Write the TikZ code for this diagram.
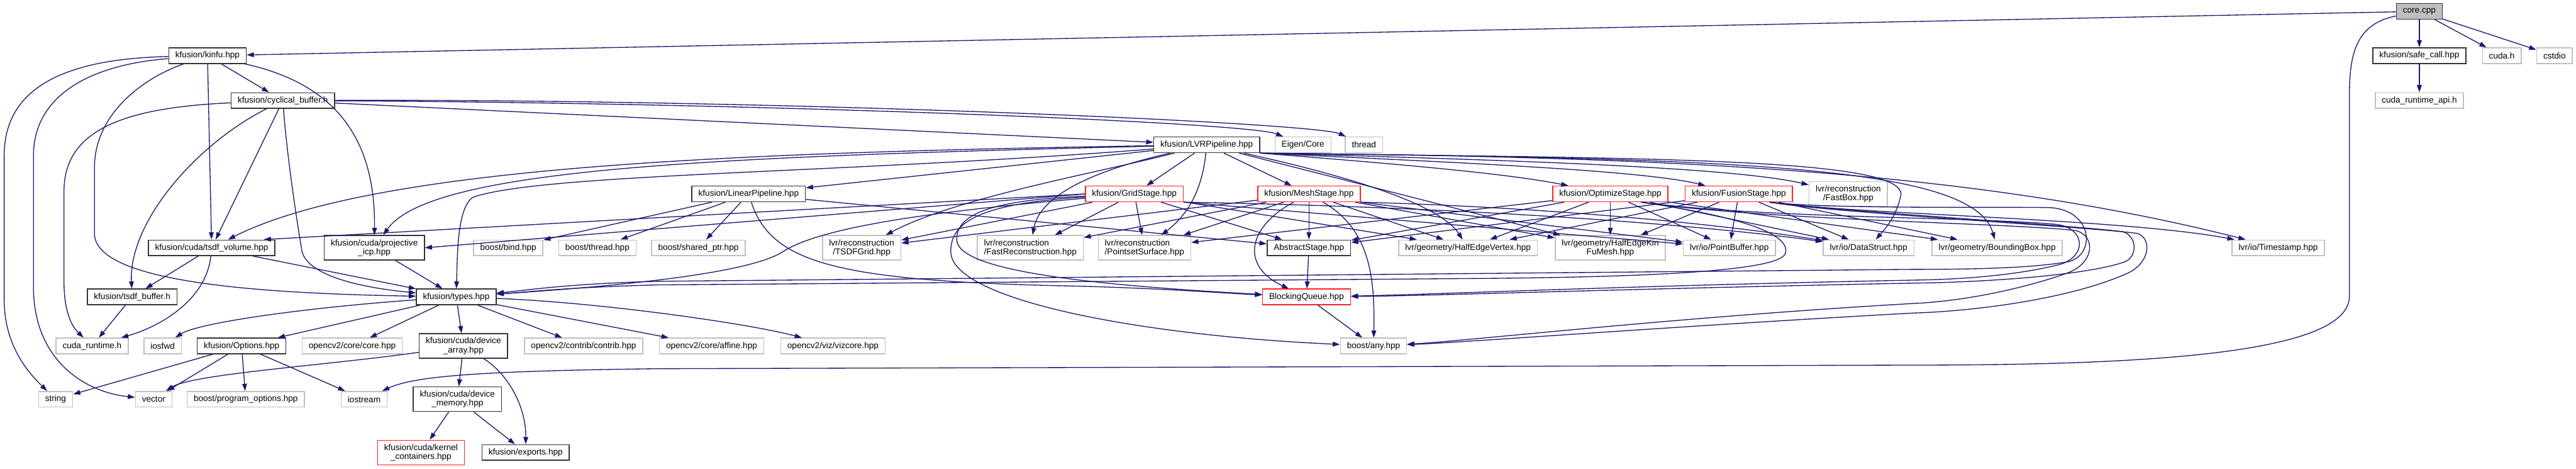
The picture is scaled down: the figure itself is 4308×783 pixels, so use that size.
\documentclass[tikz,border=0pt]{standalone}
\usepackage{fontspec}
\newfontfamily\graphfont{Liberation Sans}
\usepackage{tikz}
\usetikzlibrary{arrows.meta}
\definecolor{edgeblue}{HTML}{191970}
\definecolor{extgray}{HTML}{BFBFBF}
\definecolor{docline}{HTML}{333333}
\definecolor{cutred}{HTML}{FF2020}
\tikzset{
  inc/.style={-{Triangle[length=12pt,width=8pt]}, draw=edgeblue, line width=1.4pt},
  file/.style={rectangle, draw, fill=white, line width=1.6pt, align=center, inner xsep=11pt, inner ysep=2pt, minimum height=26pt, font=\graphfont\fontsize{14.3}{15}\selectfont},
  docfile/.style={file, draw=docline},
  extfile/.style={file, draw=extgray},
  cutfile/.style={file, draw=cutred},
  srcfile/.style={file, draw=docline, fill=extgray},
  twolines/.style={minimum height=41pt}
}

\begin{document}
\begin{tikzpicture}[x=1pt,y=1pt]
  \useasboundingbox (0,0) rectangle (4308,-783);

  \node[srcfile] (core) at (4046,-19) {core.cpp};
  \node[docfile] (kinfu) at (347,-93) {kfusion/kinfu.hpp};
  \node[docfile] (safecall) at (4046,-93) {kfusion/safe\_call.hpp};
  \node[extfile] (cudah) at (4184,-93) {cuda.h};
  \node[extfile] (cstdio) at (4272,-93) {cstdio};
  \node[docfile] (cyclical) at (473,-168) {kfusion/cyclical\_buffer.h};
  \node[extfile] (cudaapi) at (4046,-168) {cuda\_runtime\_api.h};
  \node[docfile] (lvr) at (2018,-242) {kfusion/LVRPipeline.hpp};
  \node[extfile] (eigen) at (2179,-242) {Eigen/Core};
  \node[extfile] (thrd) at (2281,-242) {thread};

  \node[docfile] (linear) at (1252,-324) {kfusion/LinearPipeline.hpp};
  \node[cutfile] (grid) at (1897,-324) {kfusion/GridStage.hpp};
  \node[cutfile] (mesh) at (2189,-324) {kfusion/MeshStage.hpp};
  \node[cutfile] (optimize) at (2693,-324) {kfusion/OptimizeStage.hpp};
  \node[cutfile] (fusion) at (2908,-324) {kfusion/FusionStage.hpp};
  \node[extfile, twolines] (fastbox) at (3091,-324) {lvr/reconstruction\\/FastBox.hpp};

  \node[docfile] (tsdfvol) at (354,-414) {kfusion/cuda/tsdf\_volume.hpp};
  \node[docfile, twolines] (projicp) at (626,-414) {kfusion/cuda/projective\\\_icp.hpp};
  \node[extfile] (bind) at (850,-414) {boost/bind.hpp};
  \node[extfile] (bthread) at (999,-414) {boost/thread.hpp};
  \node[extfile] (sharedptr) at (1168,-414) {boost/shared\_ptr.hpp};
  \node[extfile, twolines] (tsdfgrid) at (1441,-414) {lvr/reconstruction\\/TSDFGrid.hpp};
  \node[extfile, twolines, align=left] (fastrec) at (1723,-414) {lvr/reconstruction\\/FastReconstruction.hpp};
  \node[extfile, twolines, align=left] (pointset) at (1914,-414) {lvr/reconstruction\\/PointsetSurface.hpp};
  \node[docfile] (abstract) at (2189,-414) {AbstractStage.hpp};
  \node[extfile] (hevertex) at (2455,-414) {lvr/geometry/HalfEdgeVertex.hpp};
  \node[extfile, twolines] (hekinfu) at (2693,-414) {lvr/geometry/HalfEdgeKin\\FuMesh.hpp};
  \node[extfile] (pointbuf) at (2892,-414) {lvr/io/PointBuffer.hpp};
  \node[extfile] (datastruct) at (3125,-414) {lvr/io/DataStruct.hpp};
  \node[extfile] (bbox) at (3340,-414) {lvr/geometry/BoundingBox.hpp};
  \node[extfile] (timestamp) at (3810,-414) {lvr/io/Timestamp.hpp};

  \node[docfile] (tsdfbuf) at (221,-496) {kfusion/tsdf\_buffer.h};
  \node[docfile] (types) at (763,-496) {kfusion/types.hpp};
  \node[cutfile] (blocking) at (2185,-496) {BlockingQueue.hpp};

  \node[extfile] (cudart) at (154,-578) {cuda\_runtime.h};
  \node[extfile] (iosfwd) at (272,-578) {iosfwd};
  \node[docfile] (options) at (404,-578) {kfusion/Options.hpp};
  \node[extfile] (corehpp) at (589,-578) {opencv2/core/core.hpp};
  \node[docfile, twolines] (devarray) at (775,-578) {kfusion/cuda/device\\\_array.hpp};
  \node[extfile] (contrib) at (976,-578) {opencv2/contrib/contrib.hpp};
  \node[extfile] (affine) at (1190,-578) {opencv2/core/affine.hpp};
  \node[extfile] (vizcore) at (1393,-578) {opencv2/viz/vizcore.hpp};
  \node[extfile] (anyb) at (2297,-578) {boost/any.hpp};

  \node[extfile] (string) at (93,-667) {string};
  \node[extfile] (vector) at (257,-667) {vector};
  \node[extfile] (progopts) at (411,-667) {boost/program\_options.hpp};
  \node[extfile] (iostream) at (609,-667) {iostream};
  \node[docfile, twolines] (devmem) at (765,-667) {kfusion/cuda/device\\\_memory.hpp};
  \node[cutfile, twolines] (kernelcont) at (704,-756) {kfusion/cuda/kernel\\\_containers.hpp};
  \node[docfile] (exports) at (879,-756) {kfusion/exports.hpp};

  \foreach \t in {kinfu,safecall,cudah,cstdio} \draw[inc] (core) -- (\t);
  \draw[inc] (core) .. controls (3940,-40) and (3929,-90) .. (3929,-160) -- (3929,-495) .. controls (3929,-590) and (3600,-610) .. (3200,-610) -- (1100,-616) .. controls (780,-620) and (690,-630) .. (iostream);
  \draw[inc] (safecall) -- (cudaapi);

  \foreach \t in {cyclical,tsdfvol} \draw[inc] (kinfu) -- (\t);
  \draw[inc] (kinfu) .. controls (560,-140) and (628,-230) .. (projicp);
  \draw[inc] (kinfu) .. controls (120,-98) and (7,-140) .. (7,-260) -- (7,-500) .. controls (7,-580) and (50,-625) .. (string);
  \draw[inc] (kinfu) .. controls (150,-108) and (56,-160) .. (56,-260) -- (56,-480) .. controls (56,-600) and (140,-655) .. (vector);
  \draw[inc] (kinfu) .. controls (240,-130) and (158,-190) .. (158,-280) -- (158,-390) .. controls (158,-470) and (420,-490) .. (types);

  \draw[inc] (cyclical) -- (lvr);
  \draw[inc] (cyclical) -- (tsdfvol);
  \draw[inc] (cyclical) .. controls (1300,-172) and (2090,-205) .. (eigen);
  \draw[inc] (cyclical) .. controls (1300,-165) and (2200,-205) .. (thrd);
  \draw[inc] (cyclical) .. controls (200,-180) and (107,-220) .. (107,-320) -- (107,-470) .. controls (107,-530) and (125,-550) .. (cudart);
  \draw[inc] (cyclical) .. controls (330,-240) and (215,-370) .. (tsdfbuf);
  \draw[inc] (cyclical) .. controls (480,-260) and (495,-360) .. (505,-420) .. controls (515,-460) and (600,-480) .. (types);

  \foreach \t in {linear,grid,mesh,hekinfu} \draw[inc] (lvr) -- (\t);
  \draw[inc] (lvr) .. controls (1200,-255) and (620,-280) .. (tsdfvol);
  \draw[inc] (lvr) .. controls (1200,-262) and (720,-280) .. (projicp);
  \draw[inc] (lvr) .. controls (1400,-290) and (900,-290) .. (790,-330) .. controls (765,-350) and (765,-420) .. (types);
  \draw[inc] (lvr) .. controls (1830,-290) and (1600,-330) .. (tsdfgrid);
  \draw[inc] (lvr) .. controls (1850,-280) and (1740,-320) .. (fastrec);
  \draw[inc] (lvr) .. controls (2010,-320) and (1985,-360) .. (pointset);
  \draw[inc] (lvr) .. controls (2280,-300) and (2410,-345) .. (hevertex);
  \draw[inc] (lvr.south east) .. controls (2350,-275) and (2520,-290) .. (optimize);
  \draw[inc] (lvr.south east) .. controls (2450,-272) and (2750,-285) .. (fusion);
  \draw[inc] (lvr.south east) .. controls (2550,-268) and (2900,-280) .. (fastbox);
  \draw[inc] (lvr.south east) .. controls (2750,-265) and (3205,-262) .. (3178,-330) .. controls (3170,-365) and (3150,-385) .. (datastruct);
  \draw[inc] (lvr.south east) .. controls (2900,-265) and (3300,-275) .. (bbox);
  \draw[inc] (lvr.south east) .. controls (2800,-262) and (3300,-285) .. (timestamp);

  \foreach \t in {bind,bthread,sharedptr,abstract} \draw[inc] (linear) -- (\t);
  \draw[inc] (linear) .. controls (1290,-440) and (1400,-470) .. (1800,-478) .. controls (1950,-482) and (2050,-490) .. (blocking);

  \foreach \t in {tsdfgrid,fastrec,pointset,abstract,hevertex} \draw[inc] (grid) -- (\t);
  \draw[inc] (grid.west) -- (tsdfvol.9);
  \draw[inc] (grid.west) -- (projicp.east);
  \draw[inc] (grid.south east) -- (pointbuf);
  \draw[inc] (grid.south east) .. controls (2400,-345) and (2800,-370) .. (datastruct);
  \draw[inc] (grid) .. controls (1600,-350) and (1380,-375) .. (1310,-420) .. controls (1250,-460) and (1000,-480) .. (types);
  \draw[inc] (grid) .. controls (1650,-335) and (1600,-360) .. (1600,-400) .. controls (1600,-450) and (1800,-475) .. (blocking);
  \draw[inc] (grid) .. controls (1640,-340) and (1590,-370) .. (1590,-420) .. controls (1590,-500) and (1900,-560) .. (anyb);

  \foreach \t in {tsdfgrid,fastrec,pointset,abstract,hevertex,hekinfu} \draw[inc] (mesh) -- (\t);
  \draw[inc] (mesh.south east) -- (pointbuf);
  \draw[inc] (mesh.south east) .. controls (2550,-345) and (2850,-370) .. (datastruct);
  \draw[inc] (mesh) .. controls (2085,-380) and (2075,-445) .. (blocking);
  \draw[inc] (mesh) .. controls (2285,-380) and (2300,-450) .. (anyb);

  \foreach \t in {pointset,abstract,hevertex,hekinfu,pointbuf,datastruct,bbox} \draw[inc] (optimize) -- (\t);
  \draw[inc] (optimize.-15) .. controls (2900,-360) and (3000,-390) .. (2985,-425) .. controls (2970,-450) and (2800,-462) .. (2500,-465) -- (1100,-476) .. controls (950,-480) and (880,-488) .. (types);
  \draw[inc] (optimize.-15) .. controls (2950,-365) and (3300,-362) .. (3440,-375) .. controls (3490,-382) and (3490,-432) .. (3440,-443) .. controls (3370,-460) and (3280,-467) .. (3200,-468) .. controls (2700,-478) and (2400,-492) .. (blocking);
  \draw[inc] (optimize.-15) .. controls (2950,-368) and (3350,-372) .. (3470,-385) .. controls (3505,-392) and (3505,-440) .. (3455,-457) .. controls (3390,-480) and (3290,-503) .. (3200,-507) .. controls (2800,-530) and (2450,-570) .. (anyb);

  \foreach \t in {abstract,hevertex,hekinfu,pointbuf,datastruct,bbox} \draw[inc] (fusion) -- (\t);
  \draw[inc] (fusion.-15) .. controls (3100,-358) and (3550,-365) .. (timestamp);
  \draw[inc] (fusion.-15) .. controls (3060,-350) and (3380,-345) .. (3430,-347) .. controls (3500,-352) and (3505,-425) .. (3460,-437) .. controls (3400,-448) and (3300,-450) .. (3200,-450) -- (1100,-470) .. controls (950,-474) and (880,-485) .. (types);
  \draw[inc] (fusion.-15) .. controls (3060,-352) and (3450,-375) .. (3550,-387) .. controls (3575,-395) and (3575,-430) .. (3552,-438) .. controls (3480,-462) and (3300,-472) .. (3200,-473) .. controls (2700,-483) and (2400,-494) .. (blocking);
  \draw[inc] (fusion.-15) .. controls (3060,-355) and (3480,-378) .. (3575,-390) .. controls (3600,-400) and (3595,-440) .. (3557,-457) .. controls (3460,-500) and (3300,-520) .. (3200,-523) .. controls (2800,-545) and (2450,-572) .. (anyb);

  \foreach \t in {tsdfbuf,types} \draw[inc] (tsdfvol) -- (\t);
  \draw[inc] (tsdfvol) .. controls (345,-500) and (270,-545) .. (cudart);
  \draw[inc] (tsdfbuf) -- (cudart);
  \draw[inc] (projicp) -- (types);
  \draw[inc] (abstract) -- (blocking);
  \draw[inc] (blocking) -- (anyb);

  \foreach \t in {options,corehpp,devarray,contrib,affine} \draw[inc] (types) -- (\t);
  \draw[inc] (types) .. controls (500,-515) and (330,-540) .. (iosfwd);
  \draw[inc] (types) .. controls (1000,-505) and (1250,-540) .. (vizcore);
  \foreach \t in {string,vector,progopts,iostream} \draw[inc] (options) -- (\t);
  \draw[inc] (devarray) -- (devmem);
  \draw[inc] (devarray) .. controls (550,-610) and (320,-625) .. (vector);
  \draw[inc] (devarray) .. controls (850,-625) and (880,-680) .. (exports);
  \foreach \t in {kernelcont,exports} \draw[inc] (devmem) -- (\t);
\end{tikzpicture}
\end{document}
